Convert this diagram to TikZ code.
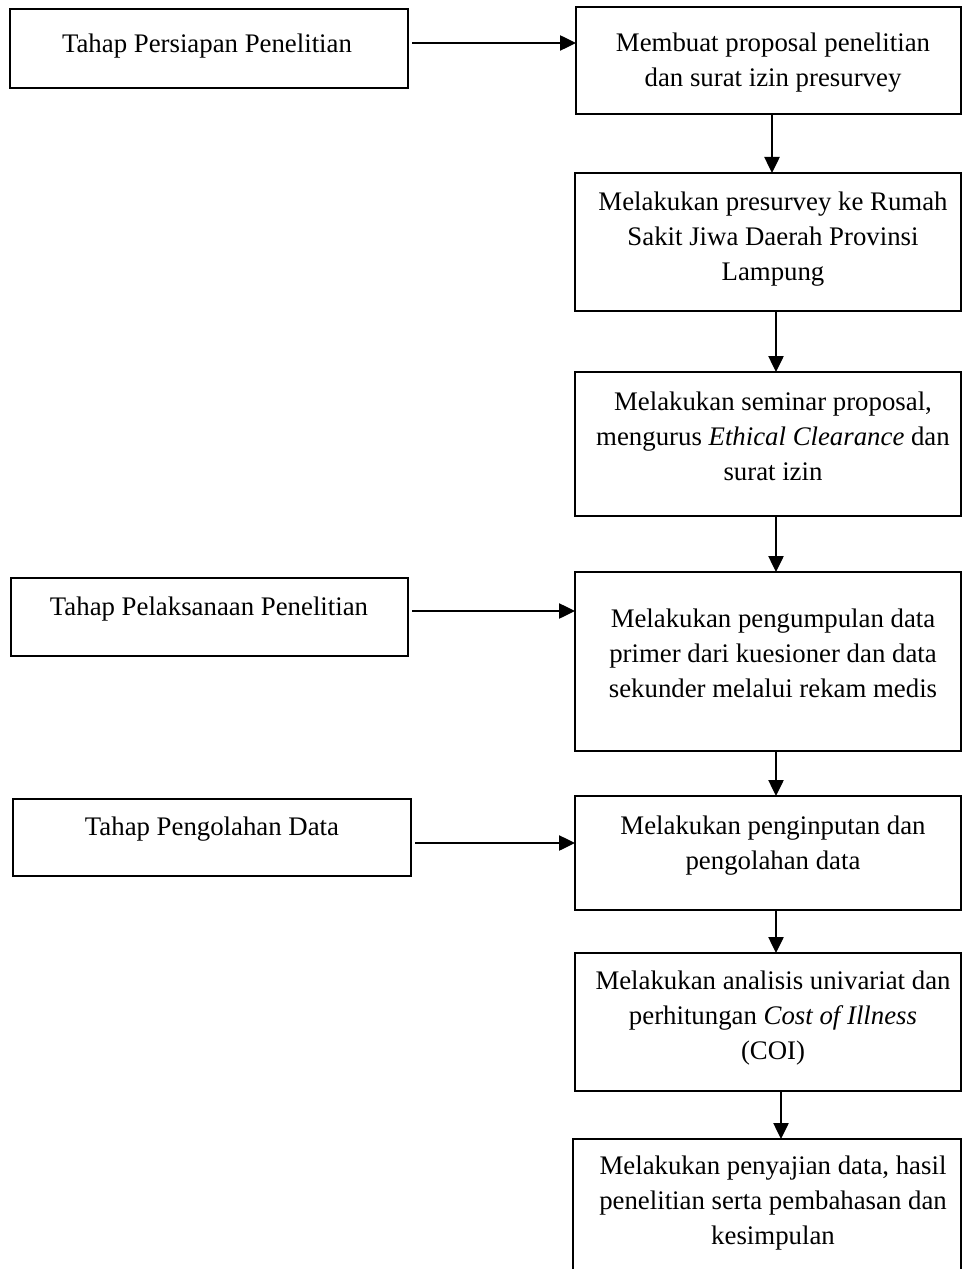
\documentclass[tikz,border=0pt]{standalone}
\usepackage{fontspec}
\setmainfont{Liberation Serif}
\usetikzlibrary{arrows.meta}
\begin{document}
\begin{tikzpicture}[x=0.75pt,y=-0.75pt,
  box/.style={draw, line width=1.95pt, inner sep=0pt, outer sep=0pt, rectangle},
  txt/.style={align=center, inner sep=0pt, font=\fontsize{20.1pt}{26.2pt}\selectfont},
  arr/.style={line width=1pt, -{Triangle[length=12pt,width=11.5pt]}}]
\useasboundingbox (0,0) rectangle (963,1269);
% left boxes
\node[box, minimum width=298.5pt, minimum height=59.25pt] (L1) at (209,48.5) {};
\node[box, minimum width=297.75pt, minimum height=58.5pt] (L2) at (209.5,617) {};
\node[box, minimum width=298.5pt, minimum height=57.75pt] (L3) at (212,837.5) {};
% right boxes
\node[box, minimum width=288.75pt, minimum height=80.25pt] (R1) at (768.5,60.5) {};
\node[box, minimum width=289.5pt, minimum height=103.5pt] (R2) at (768,242) {};
\node[box, minimum width=289.5pt, minimum height=108pt] (R3) at (768,444) {};
\node[box, minimum width=289.5pt, minimum height=134.25pt] (R4) at (768,661.5) {};
\node[box, minimum width=289.5pt, minimum height=85.5pt] (R5) at (768,853) {};
\node[box, minimum width=289.5pt, minimum height=103.5pt] (R6) at (768,1022) {};
\node[inner sep=0pt, outer sep=0pt, minimum width=291pt, minimum height=97.5pt] (R7) at (767,1204) {};
\draw[line width=1.95pt] (R7.south west) -- (R7.north west) -- (R7.north east) -- (R7.south east);
% texts
\node[txt] (tL1) at (207,46) {Tahap Persiapan Penelitian};
\node[txt] (tR1) at (773,63) {Membuat proposal penelitian\\dan surat izin presurvey};
\node[txt] (tR2) at (773,239) {Melakukan presurvey ke Rumah\\Sakit Jiwa Daerah Provinsi\\Lampung};
\node[txt] (tR3) at (773,436) {Melakukan seminar proposal,\\mengurus \textit{Ethical Clearance} dan\\surat izin};
\node[txt] (tL2) at (209,609) {Tahap Pelaksanaan Penelitian};
\node[txt] (tR4) at (773,653) {Melakukan pengumpulan data\\primer dari kuesioner dan data\\sekunder melalui rekam medis};
\node[txt] (tL3) at (212,829) {Tahap Pengolahan Data};
\node[txt] (tR5) at (773,846) {Melakukan penginputan dan\\pengolahan data};
\node[txt] (tR6) at (773,1018) {Melakukan analisis univariat dan\\perhitungan \textit{Cost of Illness}\\(COI)};
\node[txt] (tR7) at (773,1203) {Melakukan penyajian data, hasil\\penelitian serta pembahasan dan\\kesimpulan};
% horizontal arrows
\draw[arr, shorten <=3pt] (L1.east |- 0,43) -- (R1.west |- 0,43);
\draw[arr, shorten <=3pt] (L2.east |- 0,611) -- (R4.west |- 0,611);
\draw[arr, shorten <=3pt] (L3.east |- 0,843) -- (R5.west |- 0,843);
% vertical arrows
\draw[arr] (R1.south -| 772,0) -- (R2.north -| 772,0);
\draw[arr] (R2.south -| 776,0) -- (R3.north -| 776,0);
\draw[arr] (R3.south -| 776,0) -- (R4.north -| 776,0);
\draw[arr] (R4.south -| 776,0) -- (R5.north -| 776,0);
\draw[arr] (R5.south -| 776,0) -- (R6.north -| 776,0);
\draw[arr] (R6.south -| 781,0) -- (R7.north -| 781,0);
\end{tikzpicture}
\end{document}
